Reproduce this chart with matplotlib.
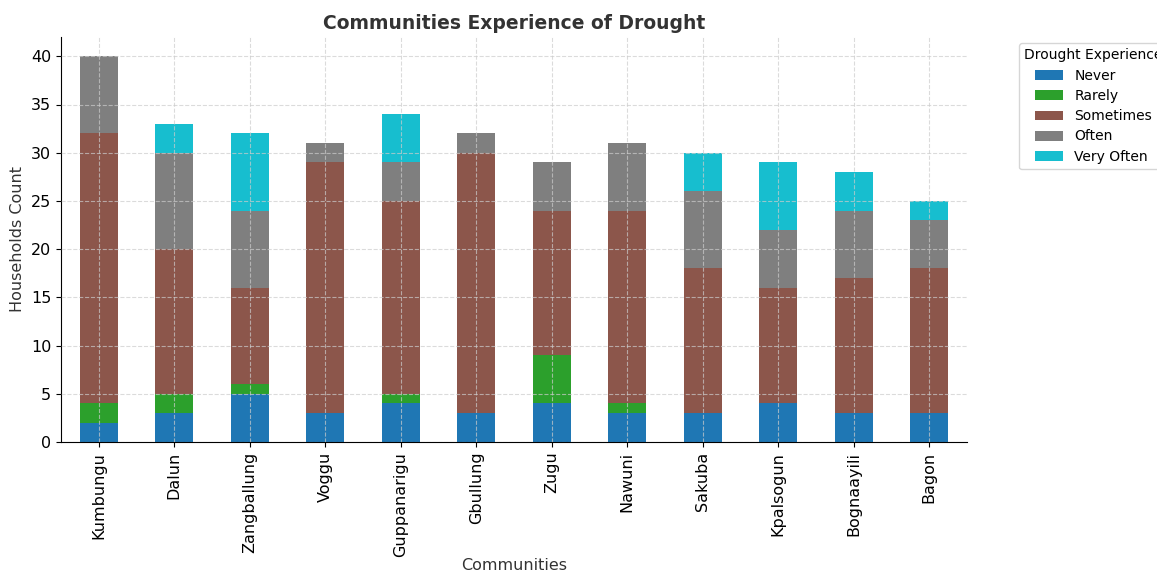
import matplotlib
matplotlib.use("Agg")
import matplotlib.pyplot as plt
import numpy as np

communities = ["Kumbungu", "Dalun", "Zangballung", "Voggu", "Guppanarigu", "Gbullung",
               "Zugu", "Nawuni", "Sakuba", "Kpalsogun", "Bognaayili", "Bagon"]
levels = ["Never", "Rarely", "Sometimes", "Often", "Very Often"]

never      = [2, 3, 5, 3, 4, 3, 4, 3, 3, 4, 3, 3]
rarely     = [2, 2, 1, 0, 1, 0, 5, 1, 0, 0, 0, 0]
sometimes  = [28, 15, 10, 26, 20, 27, 15, 20, 15, 12, 14, 15]
often      = [8, 10, 8, 2, 4, 2, 5, 7, 8, 6, 7, 5]
very_often = [0, 3, 8, 0, 5, 0, 0, 0, 4, 7, 4, 2]

series = [never, rarely, sometimes, often, very_often]
colors = ["#1f77b4", "#2ca02c", "#8c564b", "#7f7f7f", "#17becf"]

fig = plt.figure(figsize=(11.57, 5.74), dpi=100)
ax = fig.add_axes([61 / 1157, 1 - 442 / 574, (967 - 61) / 1157, (442 - 37) / 574])

x = np.arange(len(communities))
bottom = np.zeros(len(communities))
for name, vals, col in zip(levels, series, colors):
    ax.bar(x, vals, width=0.5, bottom=bottom, color=col, label=name, zorder=1)
    bottom += np.array(vals)

ax.set_xlim(-0.5, len(communities) - 0.5)
ax.set_ylim(0, 42)
ax.set_yticks(range(0, 41, 5))
ax.set_xticks(x)
ax.set_xticklabels(communities, rotation=90, fontsize=11.5)
ax.tick_params(axis="y", labelsize=11.5)
ax.grid(True, linestyle="--", color="#cccccc", linewidth=0.8, alpha=0.7, zorder=3)
ax.set_axisbelow(False)
for s in ["top", "right"]:
    ax.spines[s].set_visible(False)

ax.set_title("Communities Experience of Drought", fontsize=13.5, fontweight="bold",
             color="#333333", pad=6)
ax.set_xlabel("Communities", fontsize=11.5, color="#333333", labelpad=1)
ax.set_ylabel("Households Count", fontsize=11.5, color="#333333")

fig.legend(title="Drought Experience", loc="upper left",
           bbox_to_anchor=(1012 / 1157, 1 - 36 / 574), fontsize=10, title_fontsize=10,
           frameon=True, edgecolor="#cccccc", handlelength=2.0, handletextpad=0.8,
           labelspacing=0.45)

fig.savefig("out.png", dpi=100)
